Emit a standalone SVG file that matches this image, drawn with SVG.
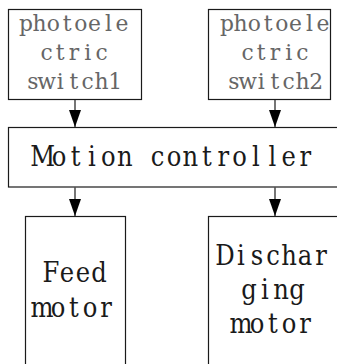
<svg xmlns="http://www.w3.org/2000/svg" width="337" height="364" viewBox="0 0 337 364">
<style>
.box{fill:#fff;stroke:#1a1a1a;stroke-width:1.2}
.t{font-family:"DejaVu Serif","Liberation Serif",serif;text-anchor:middle}
.g{fill:#666;font-size:23px}
.k{fill:#1a1a1a;font-size:27px}
.ln{stroke:#1a1a1a;stroke-width:1.2;fill:none}
</style>
<defs>
<marker id="ah" markerWidth="17" markerHeight="12" refX="17" refY="6" orient="auto" markerUnits="userSpaceOnUse" viewBox="0 0 17 12">
<path d="M0,0 L17,6 L0,12 Z" fill="#000"/>
</marker>
</defs>
<rect width="337" height="364" fill="#fff"/>
<g id="switch1">
<rect class="box" x="8.5" y="9.5" width="133" height="90"/>
<g transform="scale(0.95 1)">
<text class="t g" x="27.26 41.68 56.21 70.63 85.16 99.58 114.11 128.53" y="31.5">photoele</text>
<text class="t g" x="48.95 63.42 77.89 92.37 106.84" y="60">ctric</text>
<text class="t g" x="34.47 48.95 63.42 77.89 92.37 106.84 121.32" y="89">switch1</text>
</g>
</g>
<g id="switch2">
<rect class="box" x="208.5" y="9.5" width="122" height="90"/>
<g transform="scale(0.95 1)">
<text class="t g" x="238.84 253.26 267.79 282.21 296.74 311.16 325.68 340.11" y="31.5">photoele</text>
<text class="t g" x="260.53 275 289.47 303.95 318.42" y="60">ctric</text>
<text class="t g" x="246.05 260.53 275 289.47 303.95 318.42 332.89" y="89">switch2</text>
</g>
</g>
<g id="controller">
<rect class="box" x="8.5" y="127.5" width="340" height="59.5"/>
<text class="t k" transform="scale(0.9 1)" x="47.56 65.78 84 102.22 120.44 138.67 156.89 175.11 193.33 211.56 229.78 248 266.22 284.44 302.67 320.89 339.11" y="166">Motion controller</text>
</g>
<g id="feed">
<rect class="box" x="25.5" y="216.5" width="100" height="160"/>
<g transform="scale(0.9 1)">
<text class="t k" x="56.67 74.44 92.22 110" y="282">Feed</text>
<text class="t k" x="46.67 64.44 82.22 100 117.78" y="317">motor</text>
</g>
</g>
<g id="discharging">
<rect class="box" x="208.5" y="216.5" width="140" height="160"/>
<g transform="scale(0.9 1)">
<text class="t k" x="250 267.78 285.56 303.33 321.11 338.89 356.67" y="265">Dischar</text>
<text class="t k" x="276.67 294.44 312.22 330" y="299">ging</text>
<text class="t k" x="267.78 285.56 303.33 321.11 338.89" y="333">motor</text>
</g>
</g>
<g id="connectors">
<line class="ln" x1="75" y1="100" x2="75" y2="127" marker-end="url(#ah)"/>
<line class="ln" x1="275" y1="100" x2="275" y2="127" marker-end="url(#ah)"/>
<line class="ln" x1="75" y1="187.5" x2="75" y2="216" marker-end="url(#ah)"/>
<line class="ln" x1="275" y1="187.5" x2="275" y2="216" marker-end="url(#ah)"/>
</g>
</svg>
